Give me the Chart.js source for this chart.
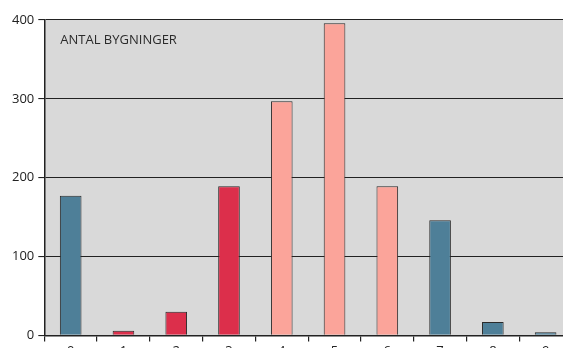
<!DOCTYPE html>
<html>
<head>
<meta charset="utf-8">
<script src="https://cdn.jsdelivr.net/npm/chart.js@4"></script>
<style>
html,body{margin:0;padding:0;background:#fff;overflow:hidden;}
#wrap{width:580px;height:361px;}
</style>
</head>
<body>
<div id="wrap"><canvas id="barChart" width="580" height="361"></canvas></div>
<script>
const categories = ["0","1","2","3","4","5","6","7","8","9"];
const buildings = [177, 6, 30, 189, 297, 396, 189, 146, 17, 4];
const barColors = ["#4e7f98","#dc2f4b","#dc2f4b","#dc2f4b","#fba49a","#fba49a","#fba49a","#4e7f98","#4e7f98","#4e7f98"];
const yTicks = [0, 100, 200, 300, 400];
const titleText = "ANTAL BYGNINGER";

// grey plot background plus the caption in its upper left corner
const plotBackground = {
    id:"plotBackground",
    beforeDraw(chart){
        const {ctx, chartArea:a} = chart;
        ctx.save();
        ctx.fillStyle = "#d9d9d9";
        ctx.fillRect(a.left, a.top, a.right - a.left, a.bottom - a.top);
        ctx.restore();
    },
    afterDatasetsDraw(chart){
        const {ctx, chartArea:a} = chart;
        ctx.save();
        ctx.fillStyle = "#2b2b2b";
        ctx.font = "13px 'Open Sans'";
        ctx.textBaseline = "middle";
        ctx.fillText(titleText, a.left + 16, a.top + 20);
        ctx.restore();
    }
};

const ctx = document.getElementById("barChart").getContext("2d");

new Chart(ctx,{
    type:"bar",
    data:{
        labels:categories,
        datasets:[{
            data:buildings,
            backgroundColor:barColors,
            borderColor:"#2a2a2a",
            borderWidth:1,
            borderSkipped:"bottom",
            categoryPercentage:1,
            barPercentage:0.41
        }]
    },
    options:{
        responsive:false,
        animation:false,
        layout:{padding:{left:8, top:20, right:8, bottom:0}},
        plugins:{
            legend:{display:false},
            tooltip:{enabled:false}
        },
        scales:{
            x:{
                grid:{
                    offset:true,
                    drawOnChartArea:false,
                    color:"#222",
                    lineWidth:1.2,
                    tickLength:6
                },
                border:{color:"#222", width:1.5},
                ticks:{
                    color:"#222",
                    padding:2,
                    maxRotation:0,
                    font:{size:13, family:"Open Sans"}
                }
            },
            y:{
                min:0,
                max:400,
                afterBuildTicks(axis){
                    axis.ticks = yTicks.map(v=>({value:v}));
                },
                grid:{
                    color:"#222",
                    lineWidth:1.1,
                    tickLength:6
                },
                border:{color:"#222", width:1.5},
                ticks:{
                    color:"#222",
                    padding:4,
                    font:{size:13, family:"Open Sans"}
                }
            }
        }
    },
    plugins:[plotBackground]
});
</script>
</body>
</html>
